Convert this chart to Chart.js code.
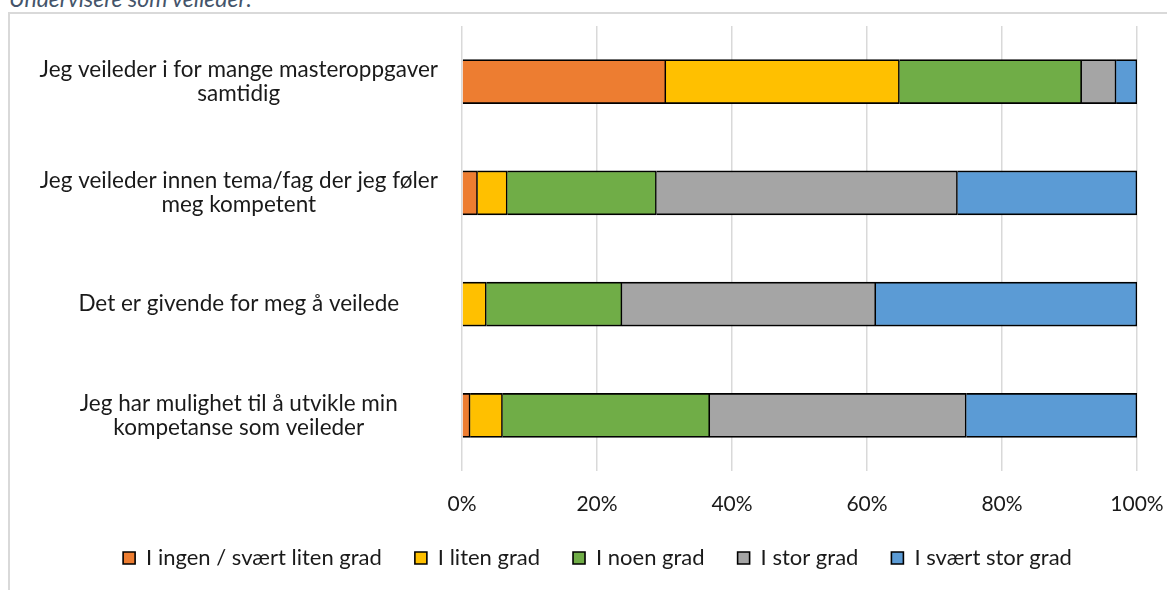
<!DOCTYPE html>
<html lang="no">
<head>
<meta charset="UTF-8">
<title>Undervisere som veileder</title>
<script src="https://cdn.jsdelivr.net/npm/chart.js"></script>
<style>
  body { margin: 0; background: #fff; overflow: hidden; }
  #tittel {
    position: absolute; left: 9px; top: -16px;
    font-family: Lato, sans-serif; font-style: italic; font-size: 23px; color: #44546a;
  }
  #ramme {
    position: absolute; left: 8px; top: 12px; width: 1200px; height: 620px;
    border: 2px solid #d9d9d9; box-sizing: border-box;
  }
  #boks { position: absolute; left: 0; top: 0; width: 1167px; height: 590px; }
</style>
</head>
<body>
<div id="tittel">Undervisere som veileder:</div>
<div id="ramme"></div>
<div id="boks"><canvas id="graf"></canvas></div>

<script>
// påstander (y-akse)
const kategorier = [
  ['Jeg veileder i for mange masteroppgaver', 'samtidig'],
  ['Jeg veileder innen tema/fag der jeg føler', 'meg kompetent'],
  'Det er givende for meg å veilede',
  ['Jeg har mulighet til å utvikle min', 'kompetanse som veileder']
];

// svarandeler i prosent
const ingenSvaertLiten = [30.2, 2.3, 0, 1.2];
const litenGrad = [34.6, 4.4, 3.6, 4.8];
const noenGrad = [27.0, 22.1, 20.1, 30.7];
const storGrad = [5.1, 44.6, 37.6, 38.0];
const svaertStorGrad = [3.1, 26.6, 38.7, 25.3];

const serieNavn = ['I ingen / svært liten grad', 'I liten grad', 'I noen grad', 'I stor grad', 'I svært stor grad'];
const farger = ['#ed7d31', '#ffc000', '#70ad47', '#a5a5a5', '#5b9bd5'];
const xTicks = [0, 20, 40, 60, 80, 100];

const serier = [ingenSvaertLiten, litenGrad, noenGrad, storGrad, svaertStorGrad];

const dataset = serier.map(function (verdier, i) {
  return {
    label: serieNavn[i],
    data: verdier,
    backgroundColor: farger[i],
    borderColor: '#000',
    borderWidth: 1.6,
    barThickness: 44
  };
});

const fontFam = 'Lato, sans-serif';
const tekstFarge = '#1a1a1a';

// legenden står litt til høyre for midten i originalen
const flyttLegende = {
  id: 'flyttLegende',
  afterLayout: function (chart) { chart.legend.left += 28; }
};

new Chart(document.getElementById('graf'), {
  type: 'bar',
  data: { labels: kategorier, datasets: dataset },
  plugins: [flyttLegende],
  options: {
    indexAxis: 'y',
    responsive: true,
    maintainAspectRatio: false,
    animation: false,
    layout: { padding: { top: 26, right: 30, left: 30, bottom: 11 } },
    scales: {
      x: {
        stacked: true,
        min: 0,
        max: 100,
        afterBuildTicks: function (akse) {
          akse.ticks = xTicks.map(function (v) { return { value: v }; });
        },
        afterFit: function (akse) {
          akse.height = 43;
          akse.paddingLeft = 0;
          akse.paddingRight = 0;
        },
        grid: { color: '#d9d9d9', lineWidth: 1.5, drawTicks: false },
        border: { display: false },
        ticks: {
          padding: 21,
          color: tekstFarge,
          font: { family: fontFam, size: 21 },
          callback: function (v) { return v + '%'; }
        }
      },
      y: {
        stacked: true,
        afterFit: function (akse) {
          akse.width = 432;
          akse.paddingTop = 0;
          akse.paddingBottom = 0;
        },
        grid: { display: false, drawTicks: false },
        border: { display: false },
        ticks: {
          crossAlign: 'center',
          padding: 24,
          color: tekstFarge,
          font: { family: fontFam, size: 22.5, lineHeight: 1.07 }
        }
      }
    },
    plugins: {
      legend: {
        position: 'bottom',
        labels: {
          boxWidth: 12,
          boxHeight: 12,
          padding: 33,
          color: tekstFarge,
          font: { family: fontFam, size: 22 }
        }
      },
      tooltip: { enabled: false }
    }
  }
});
</script>
</body>
</html>
